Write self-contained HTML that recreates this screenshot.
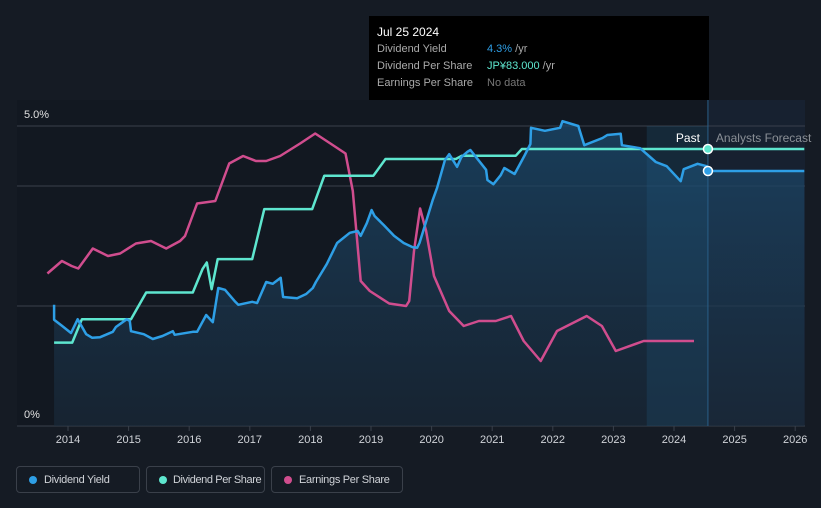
<!DOCTYPE html>
<html><head><meta charset="utf-8"><style>
body{margin:0;background:#151b24;font-family:"Liberation Sans",sans-serif;}
#wrap{position:relative;width:821px;height:508px;overflow:hidden;background:#151b24}
svg{position:absolute;left:0;top:0}
.leg{position:absolute;top:466px;height:27px;border:1px solid #3a404a;border-radius:4px;color:#d0d3d8;font-size:11px;letter-spacing:-0.3px;line-height:26px;padding-left:27px;box-sizing:border-box;white-space:nowrap;overflow:hidden}
.leg i{position:absolute;left:12px;top:9px;width:8px;height:8px;border-radius:50%}
#tip{position:absolute;left:369px;top:16px;width:340px;height:84px;background:#000;color:#fff;font-size:11px;white-space:nowrap}
#tip div{position:absolute;left:8px;white-space:nowrap}
#tip span{position:absolute;left:110px;white-space:nowrap}
</style></head><body>
<div id="wrap">
<svg id="chart" width="821" height="508"></svg>
<div id="tip">
 <div style="top:9px;font-size:12px">Jul 25 2024</div>
 <div style="top:27px;color:#aaa">Dividend Yield<span style="color:#2e9fe6">4.3% <b style="color:#aaa;font-weight:normal">/yr</b></span></div>
 <div style="top:44px;color:#aaa">Dividend Per Share<span style="color:#5ee6cf">JP¥83.000 <b style="color:#aaa;font-weight:normal">/yr</b></span></div>
 <div style="top:61px;color:#aaa">Earnings Per Share<span style="color:#777">No data</span></div>
</div>
<div class="leg" style="left:16px;width:124px"><i style="background:#2e9fe6"></i>Dividend Yield</div>
<div class="leg" style="left:146px;width:119px;padding-left:26px;letter-spacing:-0.4px"><i style="background:#5ee6cf"></i>Dividend Per Share</div>
<div class="leg" style="left:271px;width:132px"><i style="background:#d04d8e"></i>Earnings Per Share</div>
</div>
<script>
const NS="http://www.w3.org/2000/svg";
const xTicks=[2014,2015,2016,2017,2018,2019,2020,2021,2022,2023,2024,2025,2026];
const yTickLabels=["0%","5.0%"];
const yieldT=[2013.77,2013.77,2013.9,2014.05,2014.16,2014.3,2014.4,2014.53,2014.74,2014.79,2014.97,2015.02,2015.04,2015.25,2015.4,2015.56,2015.73,2015.76,2016.06,2016.13,2016.28,2016.39,2016.48,2016.59,2016.76,2016.81,2017.04,2017.12,2017.27,2017.38,2017.51,2017.55,2017.78,2017.93,2018.04,2018.09,2018.27,2018.44,2018.65,2018.78,2018.83,2018.93,2019.01,2019.06,2019.21,2019.38,2019.54,2019.69,2019.76,2019.8,2020.02,2020.09,2020.22,2020.29,2020.42,2020.49,2020.59,2020.64,2020.9,2020.92,2021.02,2021.14,2021.2,2021.37,2021.53,2021.63,2021.64,2021.87,2022.12,2022.16,2022.42,2022.52,2022.82,2022.9,2023.12,2023.14,2023.44,2023.7,2023.88,2024.11,2024.16,2024.39,2024.54,2024.56,2026.15];
const yieldV=[2.02,1.77,1.67,1.55,1.78,1.53,1.47,1.48,1.57,1.65,1.78,1.75,1.58,1.53,1.45,1.5,1.58,1.52,1.57,1.57,1.85,1.73,2.3,2.27,2.07,2.02,2.07,2.05,2.4,2.37,2.47,2.15,2.13,2.2,2.3,2.4,2.7,3.05,3.22,3.25,3.17,3.38,3.6,3.5,3.35,3.17,3.05,2.98,2.97,3.05,3.77,3.97,4.43,4.53,4.32,4.48,4.57,4.6,4.27,4.1,4.03,4.18,4.3,4.2,4.5,4.7,4.97,4.92,4.97,5.08,5.0,4.68,4.8,4.85,4.87,4.68,4.63,4.4,4.33,4.08,4.28,4.37,4.33,4.25,4.25];
const dpsT=[2013.77,2014.07,2014.23,2015.04,2015.29,2016.06,2016.22,2016.29,2016.37,2016.47,2017.04,2017.24,2018.03,2018.23,2019.04,2019.24,2020.4,2020.5,2021.39,2021.49,2024.56,2026.15];
const dpsV=[25,25,32,32,40,40,47,49,41,50,50,65,65,75,75,80,80,81,81,83,83,83];
const epsT=[2013.66,2013.9,2014.06,2014.17,2014.41,2014.66,2014.86,2015.12,2015.37,2015.62,2015.85,2015.93,2016.13,2016.43,2016.66,2016.89,2017.1,2017.27,2017.5,2017.83,2018.08,2018.33,2018.58,2018.7,2018.83,2018.98,2019.3,2019.58,2019.63,2019.71,2019.81,2019.91,2020.04,2020.29,2020.53,2020.78,2021.06,2021.31,2021.52,2021.8,2022.07,2022.56,2022.81,2023.04,2023.5,2023.92,2024.33];
const epsV=[61,66,64,63,71,68,69,73,74,71,74,76,89,90,105,108,106,106,108,113,117,113,109,94,58,54,49,48,50,70,87,78,60,46,40,42,42,44,34,26,38,44,40,30,34,34,34];
const X0=68,XS=60.6,Y0=426,YS=60;
const x=t=>X0+(t-2014)*XS;
const yY=v=>Y0-v*YS;
const yD=v=>Y0-v*(277/83);
const yE=v=>Y0-v*2.5;
const svg=document.getElementById('chart');
function mk(tag,at){const e=document.createElementNS(NS,tag);for(const k in at)e.setAttribute(k,at[k]);svg.appendChild(e);return e;}
const defs=mk('defs',{});
defs.innerHTML='<linearGradient id="ag" x1="0" y1="0" x2="0" y2="1"><stop offset="0" stop-color="#1b4a6e" stop-opacity="0.75"/><stop offset="1" stop-color="#1a2b3c" stop-opacity="0.6"/></linearGradient>';
const pastBg=mk('rect',{x:17,y:100,width:x(2024.56)-17,height:326,fill:'#121821'});

const fc=mk('rect',{x:x(2024.56),y:100,width:805-x(2024.56),height:326,fill:'#172130'});

[0,2,4,5].forEach(v=>{const g=mk('line',{x1:17,x2:805,y1:yY(v),y2:yY(v),stroke:'#39404b','stroke-width':1});
});
const ypts=yieldT.map((t,i)=>x(t).toFixed(1)+','+yY(yieldV[i]).toFixed(1));
const area=mk('path',{d:'M'+ypts.join('L')+'L'+x(2026.15)+','+Y0+'L'+x(yieldT[0])+','+Y0+'Z',fill:'url(#ag)'});

const hl=mk('rect',{x:x(2023.55),y:126,width:x(2024.56)-x(2023.55),height:300,fill:'#1e5a85',opacity:0.25});

const vl=mk('line',{x1:x(2024.56),x2:x(2024.56),y1:100,y2:426,stroke:'#2a5f88','stroke-width':1});

function line(T,V,f,c,name){const p=mk('polyline',{points:T.map((t,i)=>x(t).toFixed(1)+','+f(V[i]).toFixed(1)).join(' '),fill:'none',stroke:c,'stroke-width':2.5,'stroke-linejoin':'round'});
}
line(epsT,epsV,yE,'#d04d8e','eps-line');
line(dpsT,dpsV,yD,'#5ee6cf','dps-line');
line(yieldT,yieldV,yY,'#2e9fe6','yield-line');
const d1=mk('circle',{cx:x(2024.56),cy:yD(83),r:4.5,fill:'#5ee6cf',stroke:'#fff','stroke-width':1.5});

const d2=mk('circle',{cx:x(2024.56),cy:yY(4.25),r:4.5,fill:'#2e9fe6',stroke:'#fff','stroke-width':1.5});

function txt(s,at,name){const e=mk('text',Object.assign({'font-family':'Liberation Sans, sans-serif','font-size':11},at));e.textContent=s;return e;}
txt(yTickLabels[1],{x:24,y:118,fill:'#e0e0e0'},'y-tick-max');
txt(yTickLabels[0],{x:24,y:418,fill:'#e0e0e0'},'y-tick-zero');
txt('Past',{x:x(2024.56)-8,y:142,fill:'#fff','text-anchor':'end','font-size':12},'past-label');
txt('Analysts Forecast',{x:x(2024.56)+8,y:142,fill:'#8a8f96','font-size':12},'forecast-label');
xTicks.forEach(t=>{const tk=mk('line',{x1:x(t),x2:x(t),y1:426,y2:431,stroke:'#39404b'});

txt(String(t),{x:x(t),y:443,fill:'#d0d3d8','text-anchor':'middle'},'x-tick-label');});
</script>
</body></html>
